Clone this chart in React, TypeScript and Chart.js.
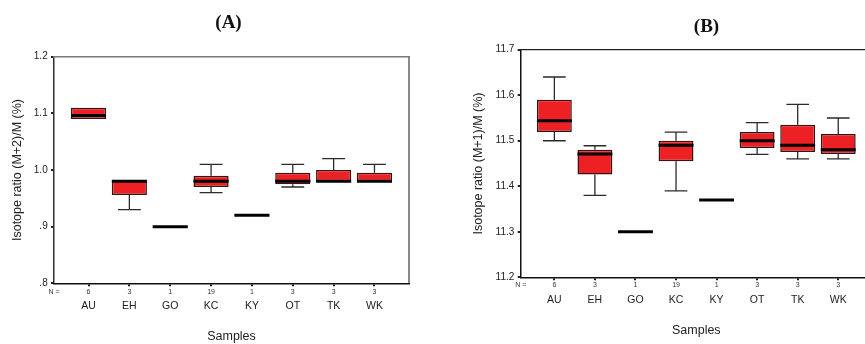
import React, { useEffect, useRef } from 'react';
import { Chart, registerables } from 'chart.js';

Chart.register(...registerables);

// ---------- data ----------
const categories = ['AU', 'EH', 'GO', 'KC', 'KY', 'OT', 'TK', 'WK'];
const nCounts = [6, 3, 1, 19, 1, 3, 3, 3];

// Panel A: Isotope ratio (M+2)/M (%)
const minA = [1.09, 0.93, 0.9, 0.96, 0.92, 0.97, 0.98, 0.98];
const q1A = [1.09, 0.956, 0.9, 0.97, 0.92, 0.975, 0.98, 0.98];
const medA = [1.096, 0.98, 0.9, 0.98, 0.92, 0.98, 0.98, 0.98];
const q3A = [1.11, 0.981, 0.9, 0.99, 0.92, 0.995, 1.0, 0.995];
const maxA = [1.11, 0.981, 0.9, 1.01, 0.92, 1.01, 1.02, 1.01];
const yTicksA = [0.8, 0.9, 1.0, 1.1, 1.2];
const yTickLabelsA = ['.8', '.9', '1.0', '1.1', '1.2'];

// Panel B: Isotope ratio (M+1)/M (%)
const minB = [11.5, 11.38, 11.3, 11.39, 11.37, 11.47, 11.46, 11.46];
const q1B = [11.519, 11.426, 11.3, 11.455, 11.37, 11.484, 11.475, 11.471];
const medB = [11.544, 11.471, 11.3, 11.49, 11.37, 11.5, 11.49, 11.48];
const q3B = [11.59, 11.48, 11.3, 11.5, 11.37, 11.519, 11.535, 11.515];
const maxB = [11.64, 11.489, 11.3, 11.519, 11.37, 11.54, 11.58, 11.55];
const yTicksB = [11.2, 11.3, 11.4, 11.5, 11.6, 11.7];
const yTickLabelsB = ['11.2', '11.3', '11.4', '11.5', '11.6', '11.7'];

// ---------- styling ----------
const SANS = "'Liberation Sans', Arial, Helvetica, sans-serif";
const SERIF = "'Liberation Serif', 'Times New Roman', serif";
const BOX_FILL = '#ED2024';
const BOX_BORDER = '#3a1212';
const WHISKER = '#2b2b2b';
const BOX_FRACTION = 0.86;
const CAP_HALF = 0.28;
const MED_HALF = 0.43;

type Stats = { min: number[]; q1: number[]; med: number[]; q3: number[]; max: number[] };
type Layout = {
  title: string;
  yTitle: string;
  yMin: number;
  yMax: number;
  yTicks: number[];
  yTickLabels: string[];
  xMin: number;
  xMax: number;
  yAxisWidth: number;
  rightWidth: number;
  titlePad: { top: number; bottom: number };
  nAxisHeight: number;
  nPad: number;
  nameAxisHeight: number;
  namePad: number;
  xTitlePadBottom: number;
  yTitlePadTop: number;
  yTickPad: number;
  topColor: string;
  topWidth: number;
  rightColor: string;
  rightWidthLine: number;
  leftColor: string;
};

function boxData(s: Stats) {
  return categories
    .map((_, i) => ({ x: i, y: [s.q1[i], s.q3[i]] }))
    .filter((d) => d.y[0] !== d.y[1]);
}

function whiskerData(s: Stats) {
  const pts: { x: number; y: number | null }[] = [];
  categories.forEach((_, i) => {
    if (s.max[i] > s.q3[i]) {
      pts.push({ x: i, y: s.q3[i] }, { x: i, y: s.max[i] }, { x: i, y: null });
      pts.push({ x: i - CAP_HALF, y: s.max[i] }, { x: i + CAP_HALF, y: s.max[i] }, { x: i, y: null });
    }
    if (s.min[i] < s.q1[i]) {
      pts.push({ x: i, y: s.q1[i] }, { x: i, y: s.min[i] }, { x: i, y: null });
      pts.push({ x: i - CAP_HALF, y: s.min[i] }, { x: i + CAP_HALF, y: s.min[i] }, { x: i, y: null });
    }
  });
  return pts;
}

function medianData(s: Stats) {
  const pts: { x: number; y: number | null }[] = [];
  categories.forEach((_, i) => {
    pts.push({ x: i - MED_HALF, y: s.med[i] }, { x: i + MED_HALF, y: s.med[i] }, { x: i, y: null });
  });
  return pts;
}

function makeChart(canvas: HTMLCanvasElement, s: Stats, L: Layout) {
  const hiddenAxis = (extra: any) => ({
    display: true,
    ticks: { display: false },
    grid: { display: false },
    ...extra,
  });
  return new Chart(canvas, {
    type: 'bar',
    data: {
      datasets: [
        {
          type: 'line',
          label: 'median',
          data: medianData(s) as any,
          xAxisID: 'xName',
          yAxisID: 'y',
          borderColor: '#000',
          borderWidth: 3,
          borderCapStyle: 'butt',
          pointRadius: 0,
          fill: false,
          spanGaps: false,
          order: 0,
        } as any,
        {
          type: 'line',
          label: 'whiskers',
          data: whiskerData(s) as any,
          xAxisID: 'xName',
          yAxisID: 'y',
          borderColor: WHISKER,
          borderWidth: 1.3,
          borderCapStyle: 'butt',
          pointRadius: 0,
          fill: false,
          spanGaps: false,
          order: 1,
        } as any,
        {
          type: 'bar',
          label: 'box',
          data: boxData(s) as any,
          xAxisID: 'xName',
          yAxisID: 'y',
          backgroundColor: BOX_FILL,
          borderColor: BOX_BORDER,
          borderWidth: 1.5,
          borderSkipped: false,
          barPercentage: BOX_FRACTION,
          categoryPercentage: 1,
          order: 2,
        } as any,
      ],
    },
    options: {
      responsive: false,
      animation: false,
      events: [],
      layout: { padding: 0 },
      plugins: {
        legend: { display: false },
        tooltip: { enabled: false },
        title: {
          display: true,
          text: L.title,
          color: '#111',
          font: { family: SERIF, size: 19, weight: 'bold', lineHeight: 1.2 },
          padding: L.titlePad,
        },
      },
      scales: {
        y: {
          type: 'linear',
          axis: 'y',
          position: 'left',
          min: L.yMin,
          max: L.yMax,
          afterBuildTicks: (sc: any) => {
            sc.ticks = L.yTicks.map((v) => ({ value: v }));
          },
          afterFit: (sc: any) => {
            sc.width = L.yAxisWidth;
          },
          ticks: {
            callback: (_v: any, i: number) => L.yTickLabels[i],
            font: { family: SANS, size: 10 },
            color: '#222',
            padding: L.yTickPad,
            autoSkip: false,
          },
          grid: { display: true, drawOnChartArea: false, drawTicks: true, tickLength: 3, lineWidth: 2, color: '#222' },
          border: { display: true, color: L.leftColor, width: 1.5 },
          title: {
            display: true,
            text: L.yTitle,
            color: '#222',
            font: { family: SANS, size: 12.5, lineHeight: 1.2 },
            padding: { top: L.yTitlePadTop, bottom: 0 },
          },
        },
        yR: hiddenAxis({
          type: 'linear',
          axis: 'y',
          position: 'right',
          min: L.yMin,
          max: L.yMax,
          afterFit: (sc: any) => {
            sc.width = L.rightWidth;
          },
          border: { display: L.rightWidthLine > 0, color: L.rightColor, width: L.rightWidthLine },
        }),
        xTop: hiddenAxis({
          type: 'linear',
          axis: 'x',
          position: 'top',
          min: L.xMin,
          max: L.xMax,
          offset: false,
          afterFit: (sc: any) => {
            sc.height = 0;
          },
          border: { display: true, color: L.topColor, width: L.topWidth },
        }),
        xN: {
          type: 'linear',
          axis: 'x',
          position: 'bottom',
          weight: 0,
          min: L.xMin,
          max: L.xMax,
          offset: false,
          afterBuildTicks: (sc: any) => {
            sc.ticks = [{ value: L.xMin }, ...categories.map((_, i) => ({ value: i }))];
          },
          afterFit: (sc: any) => {
            sc.height = L.nAxisHeight;
          },
          ticks: {
            callback: (_v: any, i: number) => (i === 0 ? 'N =' : String(nCounts[i - 1])),
            font: { family: SANS, size: 7, lineHeight: 1.2 },
            color: '#333',
            padding: L.nPad,
            autoSkip: false,
            maxRotation: 0,
            minRotation: 0,
          },
          grid: {
            display: true,
            offset: false,
            drawOnChartArea: false,
            drawTicks: true,
            tickLength: 3,
            lineWidth: 2,
            color: (ctx: any) => (ctx.index === 0 ? 'rgba(0,0,0,0)' : '#111'),
          },
          border: { display: true, color: '#111', width: 1.5 },
        },
        xName: {
          type: 'linear',
          axis: 'x',
          position: 'bottom',
          weight: 1,
          min: L.xMin,
          max: L.xMax,
          offset: false,
          afterBuildTicks: (sc: any) => {
            sc.ticks = categories.map((_, i) => ({ value: i }));
          },
          afterFit: (sc: any) => {
            sc.height = L.nameAxisHeight;
          },
          ticks: {
            callback: (_v: any, i: number) => categories[i],
            font: { family: SANS, size: 10.5, lineHeight: 1.2 },
            color: '#222',
            padding: L.namePad,
            autoSkip: false,
            maxRotation: 0,
            minRotation: 0,
          },
          grid: { display: false, offset: false, drawTicks: false },
          border: { display: false },
          title: {
            display: true,
            text: 'Samples',
            color: '#222',
            font: { family: SANS, size: 12.5, lineHeight: 1.2 },
            padding: { top: 0, bottom: L.xTitlePadBottom },
          },
        },
      },
    } as any,
  });
}

const layoutA: Layout = {
  title: '(A)',
  yTitle: 'Isotope ratio (M+2)/M (%)',
  yMin: 0.8,
  yMax: 1.2,
  yTicks: yTicksA,
  yTickLabels: yTickLabelsA,
  xMin: -0.845,
  xMax: 7.845,
  yAxisWidth: 54,
  rightWidth: 48,
  titlePad: { top: 11.6, bottom: 22.3 },
  nAxisHeight: 12.6,
  nPad: 1.2,
  nameAxisHeight: 48.1,
  namePad: 3.5,
  xTitlePadBottom: 0,
  yTitlePadTop: 10.5,
  yTickPad: 3.3,
  topColor: '#7a7a7a',
  topWidth: 1.5,
  rightColor: '#8a8a8a',
  rightWidthLine: 2,
  leftColor: '#3a2a28',
};

const layoutB: Layout = {
  title: '(B)',
  yTitle: 'Isotope ratio (M+1)/M (%)',
  yMin: 11.2,
  yMax: 11.7,
  yTicks: yTicksB,
  yTickLabels: yTickLabelsB,
  xMin: -0.83,
  xMax: 7.83,
  yAxisWidth: 90.7,
  rightWidth: 111.1,
  titlePad: { top: 15.6, bottom: 11.3 },
  nAxisHeight: 12.2,
  nPad: 0.8,
  nameAxisHeight: 54.5,
  namePad: 3.9,
  xTitlePadBottom: 5.5,
  yTitlePadTop: 40.8,
  yTickPad: 3.4,
  topColor: '#222',
  topWidth: 1.2,
  rightColor: '#222',
  rightWidthLine: 0,
  leftColor: '#111',
};

export default function App() {
  const refA = useRef<HTMLCanvasElement | null>(null);
  const refB = useRef<HTMLCanvasElement | null>(null);

  useEffect(() => {
    const statsA: Stats = { min: minA, q1: q1A, med: medA, q3: q3A, max: maxA };
    const statsB: Stats = { min: minB, q1: q1B, med: medB, q3: q3B, max: maxB };
    const a = refA.current ? makeChart(refA.current, statsA, layoutA) : null;
    const b = refB.current ? makeChart(refB.current, statsB, layoutB) : null;
    return () => {
      a?.destroy();
      b?.destroy();
    };
  }, []);

  return (
    <div
      style={{
        position: 'fixed',
        left: 0,
        top: 0,
        width: 865,
        height: 344,
        overflow: 'hidden',
        background: '#fff',
      }}
    >
      <canvas
        ref={refA}
        width={457}
        height={344}
        style={{ position: 'absolute', left: 0, top: 0, width: 457, height: 344 }}
      />
      <canvas
        ref={refB}
        width={553}
        height={344}
        style={{ position: 'absolute', left: 430, top: 0, width: 553, height: 344 }}
      />
    </div>
  );
}
